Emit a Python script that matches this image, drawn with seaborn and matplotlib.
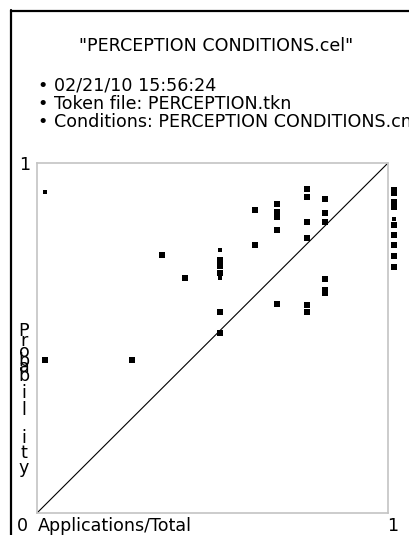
import matplotlib
matplotlib.use("Agg")
import matplotlib.pyplot as plt
from matplotlib.lines import Line2D
import numpy as np
import pandas as pd
import seaborn as sns

# Observed proportion (Applications/Total) vs. predicted probability per token
app_total = [
    0.023, 0.023, 0.272, 0.355, 0.422,
    0.521, 0.521, 0.521, 0.521, 0.521, 0.521, 0.521,
    0.621, 0.621,
    0.685, 0.685, 0.685, 0.685, 0.685,
    0.768, 0.768, 0.768, 0.768, 0.768, 0.768,
    0.820, 0.820, 0.820, 0.820, 0.820, 0.820,
    1.016, 1.016, 1.016, 1.016, 1.016, 1.016, 1.016, 1.016, 1.016, 1.016, 1.016,
]
probability = [
    0.918, 0.437, 0.437, 0.737, 0.671,
    0.751, 0.723, 0.705, 0.687, 0.671, 0.573, 0.514,
    0.866, 0.766,
    0.882, 0.859, 0.847, 0.809, 0.597,
    0.925, 0.904, 0.832, 0.785, 0.593, 0.573,
    0.897, 0.856, 0.832, 0.669, 0.637, 0.629,
    0.924, 0.914, 0.890, 0.881, 0.873, 0.840, 0.823, 0.794, 0.766, 0.734, 0.703,
]
token_weight = [
    "light", "full", "full", "full", "full",
    "light", "full", "full", "full", "light", "full", "full",
    "full", "full",
    "full", "full", "full", "full", "full",
    "full", "full", "full", "full", "full", "full",
    "full", "full", "full", "full", "full", "full",
    "full", "full", "full", "full", "full", "light", "full", "full", "full", "full", "full",
]

title_text = '"PERCEPTION CONDITIONS.cel"'
info_lines = [
    "\u2022 02/21/10 15:56:24",
    "\u2022 Token file: PERCEPTION.tkn",
    "\u2022 Conditions: PERCEPTION CONDITIONS.cnd",
]
x_label = "Applications/Total"
y_label = "Probability"
axis_min_label = "0"
axis_max_label = "1"
diag = [0, 1]

df = pd.DataFrame({"x": app_total, "y": probability, "w": token_weight})

sns.set_style("white")
plt.rcParams["font.family"] = ["DejaVu Sans"]
plt.rcParams["text.color"] = "black"

W, H = 410, 535
fig = plt.figure(figsize=(W / 100, H / 100), dpi=100)


def fx(px):
    return px / W


def fy(py):
    return 1 - py / H


FS = 12.6

# outer frame edges (top and left)
fig.add_artist(Line2D([fx(11), fx(11)], [fy(10), 0], color="black", lw=1.6,
                      transform=fig.transFigure))
fig.add_artist(Line2D([fx(11), 1], [fy(10.5), fy(10.5)], color="black", lw=1.6,
                      transform=fig.transFigure))

fig.text(fx(216), fy(51), title_text, ha="center", va="baseline", fontsize=FS,
         color="black")
for line, base in zip(info_lines, [90, 109, 127]):
    fig.text(fx(38), fy(base), line, ha="left", va="baseline", fontsize=FS,
             color="black")

ax = fig.add_axes([fx(37), fy(513), 351 / W, 350 / H])
ax.set_xlim(0, 1)
ax.set_ylim(0, 1)
ax.set_xticks([])
ax.set_yticks([])
for sp in ax.spines.values():
    sp.set_color("#c4c4c4")
    sp.set_linewidth(1.2)
    sp.set_visible(True)

ax.plot(diag, diag, color="black", lw=0.8)

full = df[df["w"] == "full"]
light = df[df["w"] == "light"]
sns.scatterplot(data=full, x="x", y="y", marker="s", s=13, color="black",
                linewidth=0, ax=ax, clip_on=False)
sns.scatterplot(data=light, x="x", y="y", marker="s", s=5, color="black",
                linewidth=0, ax=ax, clip_on=False)
ax.set_xlabel("")
ax.set_ylabel("")

# axis end labels
fig.text(fx(19), fy(170), axis_max_label, ha="left", va="baseline", fontsize=FS,
         color="black")
fig.text(fx(17), fy(531), axis_min_label, ha="left", va="baseline", fontsize=FS,
         color="black")
fig.text(fx(387), fy(531), axis_max_label, ha="left", va="baseline", fontsize=FS,
         color="black")
fig.text(fx(38), fy(531), x_label, ha="left", va="baseline", fontsize=FS,
         color="black")

# vertical stacked y label
letter_base = [336, 346, 357, 366, 372, 381, 398, 415, 443, 458, 473]
for ch, base in zip(y_label, letter_base):
    fig.text(fx(24), fy(base), ch, ha="center", va="baseline", fontsize=FS,
             color="black")

fig.savefig("out.png", dpi=100)
